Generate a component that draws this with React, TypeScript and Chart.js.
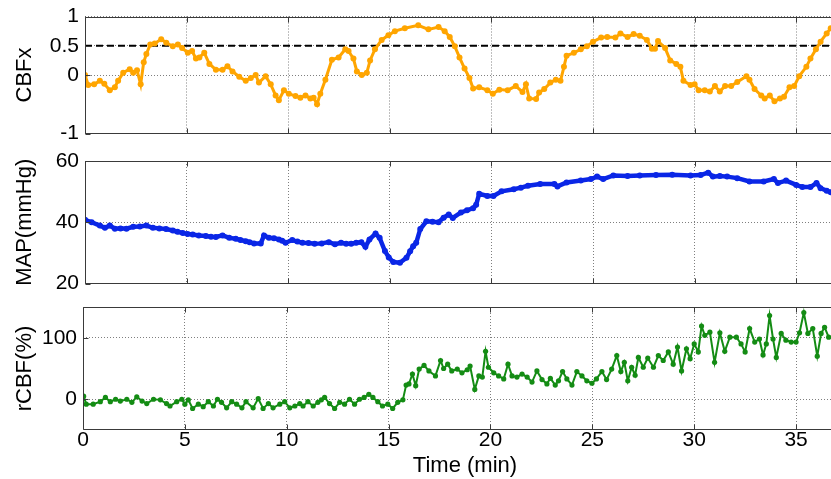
import React, { useEffect, useRef } from "react";
import { Chart, registerables } from "chart.js";

Chart.register(...registerables);

const FONT = "'Liberation Sans', Arial, Helvetica, sans-serif";

// Axis ticks / ranges
const timeTicks = [0, 5, 10, 15, 20, 25, 30, 35];
const timeRange = [0, 37.5];
const cbfxTicks = [-1, 0, 0.5, 1];
const cbfxRange = [-1, 1];
const mapTicks = [20, 40, 60];
const mapRange = [20, 60];
const rcbfTicks = [0, 100];
const rcbfRange = [-50, 150];
const cbfxThreshold = 0.5;

// Series: [time (min), value]
const cbfxPoints: [number, number][] = [
  [0, 0.0], [0.16, -0.17], [0.45, -0.16], [0.73, -0.1], [0.95, -0.15], [1.22, -0.26], [1.47, -0.21],
  [1.63, -0.1], [1.88, 0.04], [2.2, 0.1], [2.37, 0.04], [2.56, 0.08], [2.74, -0.16], [2.89, 0.22],
  [3.02, 0.36], [3.21, 0.52], [3.43, 0.54], [3.75, 0.61], [4.0, 0.55], [4.32, 0.49], [4.57, 0.52],
  [4.78, 0.46], [5.06, 0.38], [5.27, 0.41], [5.46, 0.28], [5.63, 0.3], [5.87, 0.38], [6.12, 0.19],
  [6.44, 0.09], [6.77, 0.09], [7.01, 0.15], [7.26, 0.06], [7.59, -0.03], [7.91, -0.1], [8.16, -0.05],
  [8.4, 0.0], [8.56, -0.13], [8.89, -0.02], [9.14, -0.16], [9.38, -0.35], [9.54, -0.43], [9.79, -0.26],
  [10.03, -0.32], [10.36, -0.36], [10.6, -0.39], [10.85, -0.35], [11.09, -0.4], [11.25, -0.39],
  [11.42, -0.5], [11.58, -0.32], [11.83, -0.08], [12.15, 0.26], [12.48, 0.3], [12.81, 0.44],
  [12.97, 0.41], [13.21, 0.28], [13.38, 0.06], [13.62, 0.0], [13.87, 0.04], [14.03, 0.25],
  [14.27, 0.44], [14.6, 0.6], [14.93, 0.68], [15.25, 0.75], [15.74, 0.8], [16.4, 0.85], [16.9, 0.78],
  [17.4, 0.82], [17.7, 0.75], [17.95, 0.65], [18.2, 0.49], [18.43, 0.3], [18.68, 0.11], [18.92, -0.05],
  [19.1, -0.23], [19.4, -0.21], [19.8, -0.26], [20.07, -0.32], [20.39, -0.25], [20.8, -0.26],
  [21.2, -0.19], [21.53, -0.29], [21.7, -0.16], [21.86, -0.4], [22.2, -0.41], [22.35, -0.3],
  [22.6, -0.24], [22.9, -0.13], [23.17, -0.08], [23.4, -0.1], [23.57, 0.14], [23.7, 0.33],
  [24.06, 0.38], [24.4, 0.44], [24.7, 0.49], [25.0, 0.57], [25.4, 0.64], [25.7, 0.65], [26.1, 0.64],
  [26.35, 0.71], [26.7, 0.65], [27.0, 0.7], [27.3, 0.67], [27.65, 0.6], [27.9, 0.45], [28.05, 0.45],
  [28.2, 0.58], [28.55, 0.46], [28.8, 0.25], [29.1, 0.19], [29.3, 0.14], [29.45, -0.1], [29.8, -0.17],
  [30.0, -0.16], [30.2, -0.26], [30.5, -0.26], [30.75, -0.28], [31.0, -0.19], [31.24, -0.28],
  [31.5, -0.19], [31.8, -0.19], [32.1, -0.12], [32.55, -0.02], [32.7, -0.08], [32.95, -0.24],
  [33.28, -0.35], [33.45, -0.4], [33.7, -0.35], [33.93, -0.45], [34.2, -0.4], [34.4, -0.37],
  [34.67, -0.21], [34.9, -0.19], [35.15, -0.02], [35.5, 0.14], [35.7, 0.28], [35.97, 0.44],
  [36.2, 0.57], [36.5, 0.71], [36.7, 0.8],
];

const mapPoints: [number, number][] = [
  [0, 40.8], [0.33, 40.0], [0.73, 38.9], [0.98, 38.2], [1.22, 38.9], [1.47, 37.9], [1.75, 38.0],
  [2.04, 37.9], [2.37, 38.5], [2.7, 38.6], [3.02, 38.9], [3.34, 38.2], [3.66, 38.0], [3.99, 37.8],
  [4.32, 37.3], [4.55, 36.9], [4.81, 36.5], [5.05, 36.2], [5.3, 36.0], [5.6, 35.7], [5.95, 35.5],
  [6.2, 35.3], [6.44, 35.2], [6.77, 35.7], [7.1, 34.9], [7.42, 34.6], [7.65, 34.2], [7.91, 33.8],
  [8.1, 33.5], [8.32, 33.1], [8.65, 33.1], [8.81, 35.7], [9.05, 34.9], [9.3, 34.8], [9.54, 34.4],
  [9.7, 34.0], [9.87, 33.3], [10.2, 34.2], [10.45, 33.7], [10.7, 33.3], [11.0, 33.2], [11.3, 33.0],
  [11.65, 33.1], [12.0, 33.5], [12.3, 32.8], [12.6, 33.3], [12.85, 33.0], [13.1, 33.0], [13.35, 33.3],
  [13.6, 33.5], [13.8, 32.0], [14.0, 34.4], [14.3, 36.3], [14.5, 34.9], [14.76, 30.6], [14.95, 28.5],
  [15.17, 27.0], [15.5, 26.8], [15.82, 28.4], [16.0, 30.5], [16.15, 32.2], [16.3, 33.3], [16.5, 37.8],
  [16.8, 40.3], [17.1, 40.2], [17.4, 40.0], [17.65, 41.5], [17.9, 42.5], [18.1, 41.4], [18.5, 43.2],
  [18.8, 43.9], [19.1, 44.6], [19.25, 45.7], [19.4, 49.3], [19.8, 48.6], [20.1, 48.6], [20.5, 50.1],
  [21.1, 50.8], [21.45, 51.3], [21.8, 51.9], [22.4, 52.5], [23.1, 52.5], [23.25, 51.7], [23.7, 53.0],
  [24.4, 53.6], [24.9, 54.1], [25.2, 54.9], [25.5, 54.1], [26.0, 55.3], [26.7, 55.1], [27.3, 55.3],
  [28.1, 55.4], [28.9, 55.5], [29.8, 55.3], [30.3, 55.4], [30.67, 56.2], [30.9, 54.9], [31.24, 55.1],
  [31.6, 54.9], [32.1, 54.4], [32.7, 53.3], [33.4, 53.3], [33.9, 54.1], [34.1, 52.8], [34.5, 53.6],
  [35.0, 52.2], [35.3, 51.5], [35.7, 51.5], [36.0, 52.8], [36.2, 51.1], [36.5, 50.3], [36.7, 49.8],
];

const rcbfPoints: [number, number][] = [
  [0.03, 5], [0.16, -8], [0.5, -8], [0.85, -4], [1.1, 3], [1.34, -4], [1.6, 0], [1.83, -3], [2.15, 0],
  [2.4, -5], [2.64, 4], [2.9, -3], [3.13, -7], [3.46, 0], [3.8, -1], [4.1, -7], [4.27, -11], [4.6, -4],
  [4.85, 0], [5.0, -8], [5.17, -1], [5.38, -15], [5.66, -8], [5.9, -12], [6.15, -4], [6.4, -11],
  [6.6, 0], [6.8, -5], [7.05, -14], [7.3, -4], [7.54, -8], [7.8, -14], [8.0, -4], [8.35, -14], [8.6, 1],
  [8.84, -15], [9.1, -7], [9.33, -14], [9.66, -8], [9.9, -4], [10.15, -14], [10.4, -11], [10.64, -7],
  [10.8, -11], [11.04, -4], [11.3, -11], [11.53, -5], [11.7, -1], [11.86, 3], [12.1, -7], [12.35, -15],
  [12.6, -5], [12.84, -8], [13.08, 0], [13.33, -8], [13.57, 0], [13.8, 3], [14.03, 8], [14.23, 3],
  [14.47, -4], [14.7, -11], [14.96, -8], [15.2, -15], [15.45, -5], [15.7, -1], [15.86, 23], [16.0, 25],
  [16.17, 41], [16.33, 22], [16.5, 49], [16.74, 55], [16.98, 46], [17.3, 38], [17.55, 63], [17.7, 50],
  [17.9, 57], [18.1, 46], [18.37, 49], [18.6, 43], [18.86, 48], [19.0, 54], [19.23, 16], [19.43, 38],
  [19.6, 36], [19.76, 78], [19.9, 52], [20.16, 43], [20.4, 38], [20.65, 33], [20.86, 57], [21.06, 38],
  [21.3, 36], [21.55, 41], [21.8, 36], [22.04, 28], [22.28, 46], [22.53, 32], [22.77, 25], [22.94, 34],
  [23.18, 23], [23.34, 30], [23.54, 45], [23.75, 33], [24.0, 23], [24.24, 45], [24.49, 38], [24.73, 30],
  [24.98, 26], [25.2, 33], [25.47, 45], [25.7, 32], [25.95, 49], [26.2, 71], [26.4, 45], [26.57, 60],
  [26.74, 30], [26.93, 52], [27.1, 39], [27.26, 68], [27.5, 52], [27.72, 67], [28.0, 52], [28.24, 71],
  [28.48, 63], [28.73, 77], [28.97, 57], [29.18, 85], [29.38, 46], [29.62, 82], [29.8, 66], [30.0, 90],
  [30.2, 77], [30.36, 119], [30.52, 104], [30.77, 109], [31.0, 60], [31.26, 108], [31.5, 78],
  [31.75, 101], [32.07, 101], [32.3, 90], [32.5, 77], [32.72, 115], [32.97, 93], [33.2, 98],
  [33.38, 72], [33.54, 90], [33.7, 136], [33.87, 98], [34.03, 68], [34.27, 107], [34.5, 96],
  [34.76, 93], [35.0, 93], [35.17, 108], [35.38, 141], [35.58, 107], [35.82, 115], [36.04, 70],
  [36.23, 107], [36.4, 117], [36.6, 101],
];

const CANVAS_W = 851;

type PanelSpec = {
  top: number;
  height: number;
  areaTop: number;
  areaBottom: number;
  axisWidth: number;
  title: string;
  ticks: number[];
  range: number[];
  color: string;
  points: [number, number][];
  lineWidth: number;
  pointRadius: number;
  showTime: boolean;
  threshold?: number;
};

const panels: PanelSpec[] = [
  {
    top: 0, height: 150, areaTop: 14, areaBottom: 137, axisWidth: 85,
    title: "CBFx", ticks: cbfxTicks, range: cbfxRange, color: "#FFA500",
    points: cbfxPoints, lineWidth: 3, pointRadius: 3, showTime: false, threshold: cbfxThreshold,
  },
  {
    top: 130, height: 170, areaTop: 31, areaBottom: 154, axisWidth: 85,
    title: "MAP(mmHg)", ticks: mapTicks, range: mapRange, color: "#0a26e6",
    points: mapPoints, lineWidth: 4.5, pointRadius: 3, showTime: false,
  },
  {
    top: 275, height: 204, areaTop: 32, areaBottom: 155, axisWidth: 83,
    title: "rCBF(%)", ticks: rcbfTicks, range: rcbfRange, color: "#148c14",
    points: rcbfPoints, lineWidth: 2, pointRadius: 2.6, showTime: true,
  },
];

const framePlugin = {
  id: "matlabFrame",
  afterDatasetsDraw(chart: any) {
    const { ctx, chartArea: a, scales } = chart;
    ctx.save();
    ctx.strokeStyle = "#3a3a3a";
    ctx.lineWidth = 1;
    const l = Math.round(a.left) + 0.5;
    const t = Math.round(a.top) + 0.5;
    const r = Math.round(a.right) - 0.5;
    const b = Math.round(a.bottom) - 0.5;
    ctx.beginPath();
    ctx.rect(l, t, r - l, b - t);
    const xs = scales.x;
    const ys = scales.y;
    for (const tk of xs.ticks) {
      const px = Math.round(xs.getPixelForValue(tk.value)) + 0.5;
      ctx.moveTo(px, b);
      ctx.lineTo(px, b - 5);
      ctx.moveTo(px, t);
      ctx.lineTo(px, t + 5);
    }
    for (const tk of ys.ticks) {
      const py = Math.round(ys.getPixelForValue(tk.value)) + 0.5;
      ctx.moveTo(l, py);
      ctx.lineTo(l + 5, py);
    }
    ctx.stroke();
    ctx.restore();
  },
};

function buildChart(canvas: HTMLCanvasElement, p: PanelSpec) {
  const datasets: any[] = [
    {
      data: p.points.map(([x, y]) => ({ x, y })),
      borderColor: p.color,
      backgroundColor: p.color,
      borderWidth: p.lineWidth,
      pointRadius: p.pointRadius,
      pointBorderWidth: 0,
      pointBackgroundColor: p.color,
      tension: 0,
    },
  ];
  if (p.threshold !== undefined) {
    datasets.push({
      data: [
        { x: timeRange[0], y: p.threshold },
        { x: timeRange[1], y: p.threshold },
      ],
      borderColor: "#000",
      borderWidth: 2,
      borderDash: [7, 4],
      pointRadius: 0,
      tension: 0,
    });
  }
  const gridCommon = {
    color: "rgba(0,0,0,0.5)",
    lineWidth: 1,
    drawTicks: false,
  };
  return new Chart(canvas, {
    type: "line",
    data: { datasets },
    plugins: [framePlugin],
    options: {
      responsive: false,
      animation: false,
      events: [],
      layout: { padding: { top: p.areaTop, left: 0, right: 0, bottom: 0 } },
      plugins: { legend: { display: false }, tooltip: { enabled: false } },
      scales: {
        x: {
          type: "linear",
          min: timeRange[0],
          max: timeRange[1],
          grid: gridCommon,
          border: { display: false, dash: [1, 2] },
          afterBuildTicks: (s: any) => {
            s.ticks = timeTicks.map((v) => ({ value: v }));
          },
          afterFit: (s: any) => {
            s.height = p.height - p.areaBottom;
          },
          ticks: {
            display: p.showTime,
            color: "#000",
            padding: 0,
            maxRotation: 0,
            font: { family: FONT, size: 21, lineHeight: 1 },
            callback: (v: any) => String(v),
          },
          title: {
            display: p.showTime,
            text: "Time (min)",
            color: "#000",
            font: { family: FONT, size: 22 },
            padding: { top: 0, bottom: 0 },
          },
        },
        y: {
          type: "linear",
          min: p.range[0],
          max: p.range[1],
          grid: gridCommon,
          border: { display: false, dash: [1, 2] },
          afterBuildTicks: (s: any) => {
            s.ticks = p.ticks.map((v) => ({ value: v }));
          },
          afterFit: (s: any) => {
            s.width = p.axisWidth;
          },
          ticks: {
            color: "#000",
            padding: 6,
            font: { family: FONT, size: 21, lineHeight: 1 },
            callback: (v: any) => String(v),
          },
          title: {
            display: true,
            text: p.title,
            color: "#000",
            font: { family: FONT, size: 22 },
            padding: { top: 12, bottom: 0 },
          },
        },
      },
    } as any,
  });
}

export default function App() {
  const refs = [
    useRef<HTMLCanvasElement>(null),
    useRef<HTMLCanvasElement>(null),
    useRef<HTMLCanvasElement>(null),
  ];
  useEffect(() => {
    const charts = panels.map((p, i) => buildChart(refs[i].current as HTMLCanvasElement, p));
    return () => charts.forEach((c) => c.destroy());
  }, []);
  return (
    <div
      style={{
        position: "fixed",
        left: 0,
        top: 0,
        width: 831,
        height: 479,
        overflow: "hidden",
        background: "#fff",
      }}
    >
      {panels.map((p, i) => (
        <canvas
          key={i}
          ref={refs[i]}
          width={CANVAS_W}
          height={p.height}
          style={{
            position: "absolute",
            left: 0,
            top: p.top,
            width: CANVAS_W,
            height: p.height,
            display: "block",
          }}
        />
      ))}
    </div>
  );
}
